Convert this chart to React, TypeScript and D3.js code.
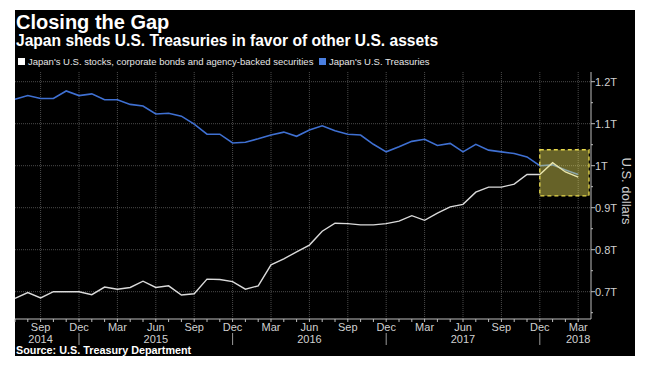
import * as d3 from 'd3';
import { useEffect, useRef } from 'react';

// monthly holdings, trillions of U.S. dollars, Jul 2014 .. Mar 2018
const treasuries = [
    1.158, 1.167, 1.160, 1.160, 1.178, 1.167,
    1.171, 1.157, 1.157, 1.146, 1.142, 1.123, 1.125, 1.118, 1.099, 1.075, 1.075, 1.054,
    1.056, 1.064, 1.073, 1.080, 1.070, 1.085, 1.095, 1.083, 1.075, 1.073, 1.051, 1.033,
    1.045, 1.058, 1.063, 1.048, 1.053, 1.033, 1.051, 1.037, 1.033, 1.029, 1.021, 1.000,
    1.002, 0.990, 0.979,
];
const otherAssets = [
    0.684, 0.698, 0.685, 0.700, 0.700, 0.700,
    0.693, 0.711, 0.706, 0.710, 0.725, 0.710, 0.714, 0.692, 0.695, 0.730, 0.729, 0.724,
    0.706, 0.714, 0.764, 0.778, 0.795, 0.811, 0.844, 0.863, 0.862, 0.859, 0.859, 0.862,
    0.868, 0.881, 0.870, 0.887, 0.902, 0.908, 0.937, 0.949, 0.949, 0.956, 0.979, 0.979,
    1.007, 0.985, 0.973,
];
const months = d3.timeMonth.range(new Date(2014, 6, 1), new Date(2018, 3, 1));

const yTicks = [0.7, 0.8, 0.9, 1.0, 1.1, 1.2];
const yTickLabels = ['0.7T', '0.8T', '0.9T', '1T', '1.1T', '1.2T'];
const yMinorTicks = [0.65, 0.75, 0.85, 0.95, 1.05, 1.15];
const yearLabels = [
    { year: '2014', month: new Date(2014, 8, 1) },
    { year: '2015', month: new Date(2015, 5, 1) },
    { year: '2016', month: new Date(2016, 5, 1) },
    { year: '2017', month: new Date(2017, 5, 1) },
    { year: '2018', month: new Date(2018, 2, 1) },
];
const highlight = { from: new Date(2017, 11, 1), top: 1.038, bottom: 0.928 };

const legendItems = [
    { name: "Japan's U.S. stocks, corporate bonds and agency-backed securities", color: '#ffffff' },
    { name: "Japan's U.S. Treasuries", color: '#4a7fe0' },
];

const App = () => {
    const ref = useRef<SVGSVGElement>(null);

    useEffect(() => {
        drawChart();
    }, []);

    const drawChart = () => {
        const width = 646;
        const height = 372;
        const left = 15, right = 591, top = 72, bottom = 319;
        const font = 'Liberation Sans, Arial, sans-serif';

        const svg = d3.select(ref.current);
        svg.selectAll('*').remove();

        svg.append('rect').attr('width', width).attr('height', height).attr('fill', '#fff');
        svg.append('rect')
            .attr('x', 15).attr('y', 10).attr('width', 620).attr('height', 346)
            .attr('fill', '#000');

        const idx = (d: Date) => d3.timeMonth.count(months[0], d);
        const x = d3.scaleLinear().domain([0, 45]).range([left, right]);
        const y = d3.scaleLinear().domain([0.7, 1.2]).range([291.7, 81.7]);

        // titles
        svg.append('text').text('Closing the Gap')
            .attr('x', 16).attr('y', 29)
            .style('font-family', font).style('font-weight', 700).style('font-size', '20px')
            .attr('fill', '#fff');
        svg.append('text').text('Japan sheds U.S. Treasuries in favor of other U.S. assets')
            .attr('x', 16).attr('y', 46)
            .style('font-family', font).style('font-weight', 700).style('font-size', '15.6px')
            .attr('fill', '#fff');

        // legend
        const legendX = [18, 319];
        legendItems.forEach((item, i) => {
            svg.append('rect')
                .attr('x', legendX[i]).attr('y', 58).attr('width', 7).attr('height', 7)
                .attr('fill', item.color);
            svg.append('text').text(item.name)
                .attr('x', legendX[i] + 10).attr('y', 65)
                .style('font-family', font).style('font-size', '9.5px')
                .attr('fill', '#e6e6e6');
        });

        // grid
        const quarterMonths = months.filter(m => m.getMonth() % 3 === 2);
        svg.append('g')
            .selectAll('line')
            .data(quarterMonths)
            .enter()
            .append('line')
            .attr('x1', (d: Date) => x(idx(d))).attr('x2', (d: Date) => x(idx(d)))
            .attr('y1', top).attr('y2', bottom)
            .attr('stroke', '#4a4a4a').attr('stroke-width', 1).attr('stroke-dasharray', '1,1');
        svg.append('g')
            .selectAll('line')
            .data(yTicks)
            .enter()
            .append('line')
            .attr('x1', left).attr('x2', right)
            .attr('y1', (d: number) => y(d)).attr('y2', (d: number) => y(d))
            .attr('stroke', '#4a4a4a').attr('stroke-width', 1).attr('stroke-dasharray', '1,1');

        // lines
        const line = d3.line<number>()
            .x((_d, i) => x(i))
            .y(d => y(d));
        svg.append('path').datum(treasuries)
            .attr('d', line).attr('fill', 'none')
            .attr('stroke', '#3f70d2').attr('stroke-width', 1.6);
        svg.append('path').datum(otherAssets)
            .attr('d', line).attr('fill', 'none')
            .attr('stroke', '#dadada').attr('stroke-width', 1.4);

        // highlight box
        svg.append('rect')
            .attr('x', x(idx(highlight.from))).attr('y', y(highlight.top))
            .attr('width', right - 2 - x(idx(highlight.from)))
            .attr('height', y(highlight.bottom) - y(highlight.top))
            .attr('fill', 'rgba(255,245,100,0.4)')
            .attr('stroke', '#e8d94c').attr('stroke-width', 1.3).attr('stroke-dasharray', '4,3');

        // axes
        const axisColor = '#bdbdbd';
        svg.append('line')
            .attr('x1', left).attr('x2', right).attr('y1', bottom).attr('y2', bottom)
            .attr('stroke', axisColor);
        svg.append('line')
            .attr('x1', right).attr('x2', right).attr('y1', top).attr('y2', bottom)
            .attr('stroke', axisColor);

        svg.append('g')
            .selectAll('line')
            .data(months)
            .enter()
            .append('line')
            .attr('x1', (d: Date) => x(idx(d))).attr('x2', (d: Date) => x(idx(d)))
            .attr('y1', bottom).attr('y2', bottom + 3)
            .attr('stroke', axisColor);

        svg.append('g')
            .selectAll('text')
            .data(quarterMonths)
            .enter()
            .append('text')
            .text((d: Date) => d3.timeFormat('%b')(d))
            .attr('x', (d: Date) => x(idx(d))).attr('y', 331)
            .attr('text-anchor', 'middle')
            .style('font-family', font).style('font-size', '11px')
            .attr('fill', '#d0d0d0');

        svg.append('g')
            .selectAll('text')
            .data(yearLabels)
            .enter()
            .append('text')
            .text((d: any) => d.year)
            .attr('x', (d: any) => x(idx(d.month))).attr('y', 343)
            .attr('text-anchor', 'middle')
            .style('font-family', font).style('font-size', '11px')
            .attr('fill', '#d0d0d0');

        svg.append('g')
            .selectAll('line')
            .data(months.filter(m => m.getMonth() === 11))
            .enter()
            .append('line')
            .attr('x1', (d: Date) => x(idx(d))).attr('x2', (d: Date) => x(idx(d)))
            .attr('y1', 333).attr('y2', 345)
            .attr('stroke', '#9a9a9a');

        svg.append('g')
            .selectAll('line')
            .data(yTicks)
            .enter()
            .append('line')
            .attr('x1', right).attr('x2', right + 4)
            .attr('y1', (d: number) => y(d)).attr('y2', (d: number) => y(d))
            .attr('stroke', axisColor);
        svg.append('g')
            .selectAll('line')
            .data(yMinorTicks)
            .enter()
            .append('line')
            .attr('x1', right).attr('x2', right + 2)
            .attr('y1', (d: number) => y(d)).attr('y2', (d: number) => y(d))
            .attr('stroke', axisColor);
        svg.append('g')
            .selectAll('text')
            .data(yTicks)
            .enter()
            .append('text')
            .text((_d: number, i: number) => yTickLabels[i])
            .attr('x', right + 4).attr('y', (d: number) => y(d) + 4)
            .style('font-family', font).style('font-size', '11px')
            .attr('fill', '#d0d0d0');

        svg.append('text').text('U.S. dollars')
            .attr('transform', 'translate(622,191) rotate(90)')
            .attr('text-anchor', 'middle')
            .style('font-family', font).style('font-size', '13px')
            .attr('fill', '#d0d0d0');

        svg.append('text').text('Source: U.S. Treasury Department')
            .attr('x', 16).attr('y', 354)
            .style('font-family', font).style('font-weight', 700).style('font-size', '10.8px')
            .attr('fill', '#fff');
    };

    return (
        <svg ref={ref} width={646} height={372}
            style={{ position: 'absolute', left: 0, top: 0 }} />
    );
};

export default App;
